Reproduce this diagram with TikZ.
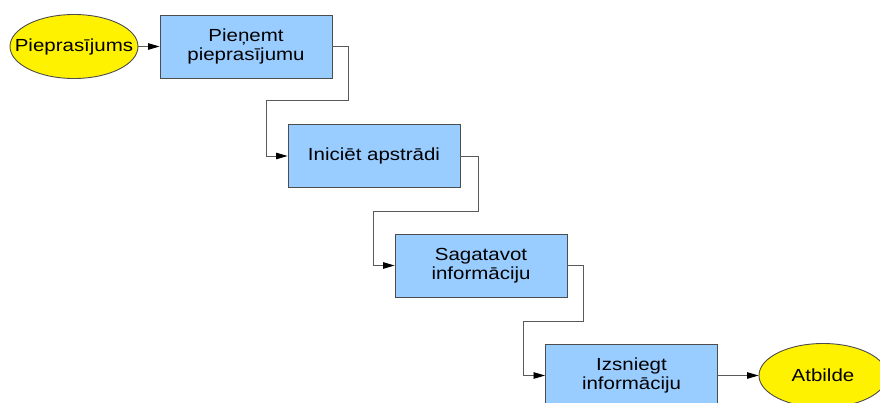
\documentclass[tikz,border=0pt]{standalone}
\usepackage{fontspec}
\newfontfamily\lvfont[FakeStretch=1.17]{Liberation Sans}
\usetikzlibrary{arrows.meta,shapes.geometric}
\definecolor{boxblue}{HTML}{99CCFF}
\definecolor{boxline}{HTML}{4D4D4D}
\definecolor{connline}{HTML}{5A5A5A}
\tikzset{
  procbox/.style={draw=boxline, line width=0.9pt, fill=boxblue, minimum width=172pt, minimum height=63pt, inner sep=0pt, align=center, font=\lvfont\fontsize{17.5}{19}\selectfont},
  termnode/.style={draw=boxline, line width=0.9pt, fill=yellow, ellipse, minimum width=128pt, minimum height=64pt, inner xsep=-14pt, inner ysep=0pt, align=center, font=\lvfont\fontsize{17.5}{19}\selectfont},
  conn/.style={draw=connline, line width=0.8pt, -{Triangle[length=11.5pt,width=6.5pt,fill=black,color=black]}}
}
\begin{document}
\begin{tikzpicture}[x=1pt,y=-1pt]
\useasboundingbox (0,0) rectangle (880,403);
\clip (0,0) rectangle (880,403);
\fill[white] (0,0) rectangle (880,403);
\node[termnode] (in) at (74,46.5) {Pieprasījums};
\node[procbox] (b1) at (246,46.5) {Pieņemt\\pieprasījumu};
\node[procbox] (b2) at (374,156) {Iniciēt apstrādi};
\node[procbox] (b3) at (481,265.5) {Sagatavot\\informāciju};
\node[procbox] (b4) at (631.5,375.5) {Izsniegt\\informāciju};
\node[termnode] (out) at (823,375.5) {Atbilde};
\draw[conn] (in) -- (b1);
\draw[conn] (b1.east) -- ++(16,0) -- ++(0,53.5) -| ([xshift=-21pt]b2.west) -- (b2.west);
\draw[conn] (b2.east) -- ++(18,0) -- ++(0,55) -| ([xshift=-21pt]b3.west) -- (b3.west);
\draw[conn] (b3.east) -- ++(16,0) -- ++(0,55.5) -| ([xshift=-22pt]b4.west) -- (b4.west);
\draw[conn] (b4) -- (out);
\end{tikzpicture}
\end{document}
